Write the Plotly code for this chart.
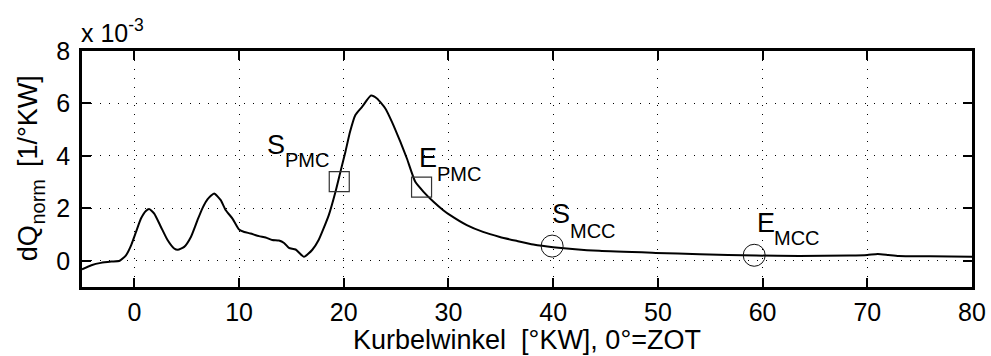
import plotly.graph_objects as go

# crank angle [deg CA], heat release rate normalised (units of 1e-3 1/degCA)
crank_angle = [-5.0, -4.1, -3.2, -2.2, -1.4, -0.8, -0.3, 0.16, 0.63, 1.1, 1.43, 1.9,
               2.54, 3.17, 3.8, 4.15, 4.76, 5.4, 6.03, 6.5, 7.0, 7.62, 8.25, 8.73,
               9.37, 10.0, 10.5, 11.1, 11.9, 12.54, 13.17, 13.81, 14.3, 14.76, 15.4,
               16.2, 17.0, 17.6, 18.57, 19.21, 19.68, 20.16, 20.6, 21.11, 21.75,
               22.6, 23.17, 23.97, 24.6, 25.4, 26.03, 26.83, 27.62, 28.57, 29.5,
               30.16, 31.75, 33.3, 34.9, 36.5, 38.1, 40.0, 44.4, 49.8, 54.0, 59.4,
               63.5, 68.3, 70.0, 71.0, 72.0, 73.0, 76.0, 80.0]
dq_norm = [-0.33, -0.17, -0.08, -0.03, 0.0, 0.21, 0.6, 1.1, 1.61, 1.9, 1.97, 1.8,
           1.29, 0.79, 0.47, 0.42, 0.53, 0.91, 1.55, 2.0, 2.35, 2.57, 2.31, 1.93,
           1.61, 1.19, 1.1, 1.04, 0.94, 0.89, 0.79, 0.77, 0.68, 0.49, 0.43,
           0.15, 0.42, 0.79, 1.74, 2.63, 3.39, 4.16, 4.92, 5.56, 5.87,
           6.3, 6.19, 5.81, 5.3, 4.54, 3.9, 3.01, 2.63, 2.25, 1.93,
           1.74, 1.36, 1.1, 0.91, 0.76, 0.62, 0.52, 0.38, 0.30, 0.25, 0.20,
           0.18, 0.20, 0.22, 0.26, 0.22, 0.18, 0.17, 0.15]

# premixed combustion start / end (squares)
pmc_x = [19.57, 27.43]
pmc_y = [3.02, 2.81]
# mixing controlled combustion start / end (circles)
mcc_x = [39.9, 59.2]
mcc_y = [0.56, 0.21]

# point labels: main letter, subscript, and their anchor positions (data units)
label_main = ["S", "E", "S", "E"]
label_sub = ["PMC", "PMC", "MCC", "MCC"]
label_main_x = [12.58, 27.07, 39.8, 59.37]
label_main_y = [4.42, 3.92, 1.78, 1.44]
label_sub_x = [14.29, 28.81, 41.5, 61.0]
label_sub_y = [3.83, 3.30, 1.12, 0.85]

x_ticks = [0, 10, 20, 30, 40, 50, 60, 70, 80]
y_ticks = [0, 2, 4, 6, 8]
x_title = "Kurbelwinkel \u00a0[°KW], 0°=ZOT"

FONT = "Liberation Sans, Arial, Helvetica, sans-serif"
FS_TICK = 25
FS_TITLE = 27
FS_SUB = 20

fig = go.Figure()
fig.add_trace(go.Scatter(x=crank_angle, y=dq_norm, mode="lines",
                         line=dict(color="black", width=2, shape="spline", smoothing=0.5),
                         showlegend=False, hoverinfo="skip"))
fig.add_trace(go.Scatter(x=pmc_x, y=pmc_y, mode="markers",
                         marker=dict(symbol="square-open", size=20, color="#333333",
                                     line=dict(width=1.2, color="#333333")),
                         showlegend=False))
fig.add_trace(go.Scatter(x=mcc_x, y=mcc_y, mode="markers",
                         marker=dict(symbol="circle-open", size=22, color="#111111",
                                     line=dict(width=1, color="#111111")),
                         showlegend=False))

for m, s, mx, my, sx, sy in zip(label_main, label_sub, label_main_x, label_main_y,
                                label_sub_x, label_sub_y):
    fig.add_annotation(x=mx, y=my, text=m, showarrow=False, xanchor="left", yanchor="middle",
                       borderpad=0, font=dict(family=FONT, size=FS_TITLE, color="black"))
    fig.add_annotation(x=sx, y=sy, text=s, showarrow=False, xanchor="left", yanchor="middle",
                       borderpad=0, font=dict(family=FONT, size=FS_SUB, color="black"))

# exponent label
fig.add_annotation(xref="paper", yref="paper", x=0, y=1, xanchor="left", yanchor="bottom",
                   xshift=-3, yshift=2, text="x 10<sup>-3</sup>", showarrow=False,
                   font=dict(family=FONT, size=FS_TICK, color="black"))

# x-axis title (placed at the bottom edge of the canvas)
fig.add_annotation(xref="paper", yref="paper", x=0.5, y=0, yshift=-69, xanchor="center",
                   yanchor="bottom", text=x_title, showarrow=False, borderpad=0,
                   font=dict(family=FONT, size=FS_TITLE, color="black"))

# y-axis title, composed MATLAB style (rotated)
ytitle_parts = ["dQ", "norm", "[1/°KW]"]
ytitle_sizes = [FS_TITLE, FS_SUB, FS_TITLE]
ytitle_xshift = [-54, -44, -54]
ytitle_y = [0.185, 0.362, 0.703]
for t, fs, xs, yy in zip(ytitle_parts, ytitle_sizes, ytitle_xshift, ytitle_y):
    fig.add_annotation(xref="paper", yref="paper", x=0, y=yy, xshift=xs, text=t,
                       textangle=-90, showarrow=False, xanchor="center", yanchor="middle",
                       borderpad=0, font=dict(family=FONT, size=fs, color="black"))

axis_common = dict(showline=True, linecolor="black", linewidth=2.5, mirror="ticks",
                   ticks="inside", ticklen=9, tickwidth=2, tickcolor="black",
                   showgrid=True, gridcolor="black", gridwidth=1, griddash="1px,8px",
                   zeroline=False, automargin=False,
                   tickfont=dict(family=FONT, size=FS_TICK, color="black"))

fig.update_xaxes(range=[-5, 80], tickvals=x_ticks, ticklabelstandoff=1, **axis_common)
fig.update_yaxes(range=[-1, 8], tickvals=y_ticks, ticklabelstandoff=4, **axis_common)

fig.update_layout(width=991, height=356, margin=dict(l=82, r=19, t=51, b=69),
                  plot_bgcolor="white", paper_bgcolor="white",
                  font=dict(family=FONT, size=FS_TICK, color="black"))

fig.write_html("out.html")
